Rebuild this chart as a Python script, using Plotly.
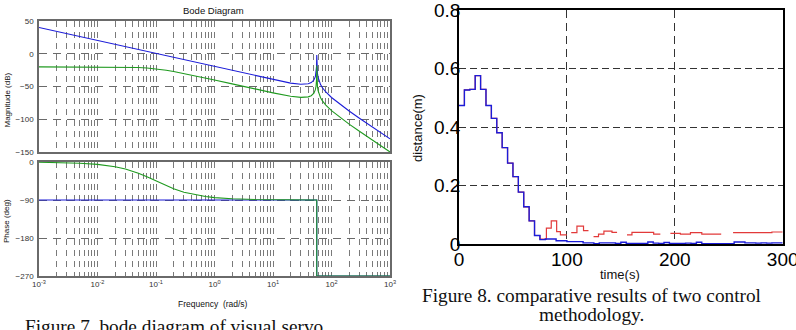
import plotly.graph_objects as go

# ---------------- Bode diagram data ----------------
freq = [0.001, 0.002, 0.005, 0.01, 0.02, 0.03, 0.05, 0.07, 0.1, 0.15, 0.2, 0.3, 0.5, 0.7,
        1, 2, 5, 10, 20, 30, 40, 45, 50, 53, 54.5, 55.5, 56, 56.5, 57.5, 59, 62, 65, 70,
        80, 100, 150, 200, 300, 500, 1000]
mag_blue = [40, 34, 26, 20, 14, 10.5, 6, 3.1, 0, -3.5, -6, -9.5, -14, -16.9,
            -20, -26, -33.9, -39.7, -44.9, -46.6, -45.8, -44.1, -40.1, -34.9, -29.2, -19.9, -2, -20.1, -29.9, -36.2, -42.9, -47.1, -51.9,
            -58.4, -66.8, -79.3, -87.4, -98.4, -111.9, -130]
mag_green = [-20, -20, -20, -20, -20.2, -20.4, -21, -21.7, -23, -25.1, -27, -30, -34.2, -37,
             -40, -46, -54, -59.7, -64.9, -66.6, -65.8, -64.1, -60.1, -54.9, -49.2, -39.9, -18, -40.1, -49.9, -56.2, -62.9, -67.1, -71.9,
             -78.4, -86.8, -99.3, -107.4, -118.4, -131.9, -150]

phase_freq = [0.001, 0.002, 0.005, 0.01, 0.02, 0.03, 0.05, 0.07, 0.1, 0.15, 0.2, 0.3, 0.5, 0.7,
              1, 2, 5, 10, 20, 56, 56, 100, 1000]
phase_blue = [-90, -90, -90, -90, -90, -90, -90, -90, -90, -90, -90, -90, -90, -90,
              -90, -90, -90, -90, -90, -90, -270, -270, -270]
phase_green = [-0.6, -1.1, -2.9, -5.7, -11.3, -16.7, -26.6, -35, -45, -56.3, -63.4, -71.6, -78.7, -81.9,
               -84.3, -87.1, -88.9, -89.4, -89.7, -89.9, -269.9, -269.9, -270]

mag_ticks = [50, 0, -50, -100, -150]
phase_ticks = [0, -90, -180, -270]
freq_ticks = [0.001, 0.01, 0.1, 1, 10, 100, 1000]
freq_ticklabels = ["10<sup>-3</sup>", "10<sup>-2</sup>", "10<sup>-1</sup>", "10<sup>0</sup>",
                   "10<sup>1</sup>", "10<sup>2</sup>", "10<sup>3</sup>"]

# ---------------- Comparative results data ----------------
t_blue = [0, 5, 10, 15, 20, 25, 30, 35, 40, 45, 50, 55, 60, 65, 70, 75, 80, 85, 90, 95,
          100, 105, 110, 115, 120, 125, 130, 135, 140, 145, 150, 155, 160, 165, 170, 175, 180, 185, 190, 195,
          200, 205, 210, 215, 220, 225, 230, 235, 240, 245, 250, 255, 260, 265, 270, 275, 280, 285, 290, 295, 300]
d_blue = [0.474, 0.527, 0.529, 0.576, 0.529, 0.474, 0.430, 0.381, 0.330, 0.277, 0.231, 0.178, 0.128, 0.080, 0.030, 0.016, 0.018, 0.018, 0.012, 0.012,
          0.009, 0.009, 0.009, 0.005, 0.005, 0.002, 0.005, 0.005, 0.005, 0.003, 0.007, 0.003, 0.003, 0.003, 0.003, 0.008, 0.004, 0.003, 0.006, 0.003,
          0.003, 0.003, 0.004, 0.003, 0.007, 0.002, 0.002, 0.002, 0.002, 0.002, 0.002, 0.008, 0.008, 0.005, 0.005, 0.004, 0.005, 0.004, 0.005, 0.005, 0.005]

t_red = [0, 5, 10, 15, 20, 25, 30, 35, 40, 45, 50, 55, 60, 65, 70, 75,
         81, 85.5, 90.5, 94, 100, 100,
         104, 109.3, 115.4, 120, 120,
         124.7, 129.3, 134.3, 141.8, 146.5, 146.5,
         155.7, 160.3, 180.4, 186.6, 186.6,
         195.9, 205.2, 214.5, 225, 243, 243,
         254, 290, 300]
d_red = [0.474, 0.527, 0.529, 0.576, 0.529, 0.474, 0.430, 0.381, 0.330, 0.277, 0.231, 0.178, 0.128, 0.080, 0.030, 0.018,
         0.055, 0.080, 0.043, 0.032, 0.032, None,
         0.040, 0.062, 0.047, 0.047, None,
         0.026, 0.035, 0.045, 0.041, 0.041, None,
         0.032, 0.041, 0.035, 0.035, None,
         0.0375, 0.035, 0.040, 0.035, 0.035, None,
         0.040, 0.042, 0.042]

time_ticks = [0, 100, 200, 300]
time_ticklabels = ["0", "100", "200", "300"]
dist_ticks = [0, 0.2, 0.4, 0.6, 0.8]
dist_ticklabels = ["0", "0.2", "0.4", "0.6", "0.8"]

# ---------------- styling ----------------
W, H = 796, 330
BLUE = "#1c1cd8"
GREEN = "#1f9a1f"
RED = "#e23a3a"
SANS = "Liberation Sans, Arial, sans-serif"
SERIF = "Liberation Serif, Times New Roman, serif"


def px_x(p):
    return p / W


def px_y(p):
    return 1 - p / H


minor_vals = [k * 10 ** e for e in range(-3, 3) for k in range(2, 10)]

fig = go.Figure()
fig.add_trace(go.Scatter(x=freq, y=mag_blue, mode="lines", line=dict(color=BLUE, width=1.1),
                         xaxis="x", yaxis="y"))
fig.add_trace(go.Scatter(x=freq, y=mag_green, mode="lines", line=dict(color=GREEN, width=1.1),
                         xaxis="x", yaxis="y"))
fig.add_trace(go.Scatter(x=phase_freq, y=phase_blue, mode="lines", line=dict(color=BLUE, width=1.1),
                         xaxis="x2", yaxis="y2"))
fig.add_trace(go.Scatter(x=phase_freq, y=phase_green, mode="lines", line=dict(color=GREEN, width=1.1),
                         xaxis="x2", yaxis="y2"))
fig.add_trace(go.Scatter(x=t_red, y=d_red, mode="lines", line=dict(color=RED, width=1.2, shape="hv"),
                         connectgaps=False, xaxis="x3", yaxis="y3"))
fig.add_trace(go.Scatter(x=t_blue, y=d_blue, mode="lines", line=dict(color=BLUE, width=1.4, shape="hv"),
                         xaxis="x3", yaxis="y3"))

bode_x_common = dict(
    type="log", range=[-3, 3], tickvals=freq_ticks, showgrid=True, gridcolor="#7a7a7a",
    griddash="6px,5px", gridwidth=1, showline=True, mirror=True, linecolor="#6a6a6a", linewidth=1.5,
    ticks="", ticklen=0, zeroline=False, automargin=False, ticklabeloverflow="allow",
    minor=dict(tickvals=minor_vals, showgrid=True, gridcolor="#7a7a7a", griddash="6px,5px", gridwidth=1, ticks=""),
    tickfont=dict(family=SANS, size=8, color="#333"),
)
bode_y_common = dict(
    showgrid=True, gridcolor="#6a6a6a", griddash="8px,6px", gridwidth=1, showline=True, mirror=True,
    linecolor="#6a6a6a", linewidth=1.5, ticks="", ticklen=0, zeroline=False, automargin=False,
    ticklabeloverflow="allow",
    tickfont=dict(family=SANS, size=8, color="#333"), ticklabelstandoff=2,
)

fig.update_layout(
    template="none",
    width=W, height=H, margin=dict(l=0, r=0, t=0, b=0, pad=0), autosize=False,
    paper_bgcolor="white", plot_bgcolor="white", showlegend=False,
    xaxis=dict(bode_x_common, domain=[px_x(39), px_x(390)], anchor="y", showticklabels=False),
    yaxis=dict(bode_y_common, domain=[px_y(152), px_y(21)], anchor="x", range=[-150, 50],
               tickvals=mag_ticks),
    xaxis2=dict(bode_x_common, domain=[px_x(39), px_x(390)], anchor="y2", ticktext=freq_ticklabels,
                showticklabels=True),
    yaxis2=dict(bode_y_common, domain=[px_y(276), px_y(162)], anchor="x2", range=[-270, 0],
                tickvals=phase_ticks),
    xaxis3=dict(domain=[px_x(459), px_x(782.7)], anchor="y3", range=[0, 300], tickvals=time_ticks,
                ticktext=time_ticklabels, showgrid=True, gridcolor="#333", griddash="8px,5px", gridwidth=1,
                showline=True, mirror=True, linecolor="black", linewidth=1.5, ticks="", ticklen=0,
                zeroline=False, automargin=False, ticklabeloverflow="allow",
                tickfont=dict(family=SANS, size=19, color="black"), ticklabelstandoff=-3),
    yaxis3=dict(domain=[px_y(244.3), px_y(10)], anchor="x3", range=[0, 0.8], tickvals=dist_ticks,
                ticktext=dist_ticklabels, showgrid=True, gridcolor="#333", griddash="7px,4px", gridwidth=1,
                showline=True, mirror=True, linecolor="black", linewidth=1.5, ticks="", ticklen=0,
                zeroline=False, automargin=False, ticklabeloverflow="allow",
                tickfont=dict(family=SANS, size=19, color="black"), ticklabelstandoff=-7),
)

ann = [
    dict(text="Bode Diagram", x=px_x(213.5), y=px_y(10.7), size=9.5, family=SANS, angle=0),
    dict(text="Magnitude (dB)", x=px_x(7.5), y=px_y(100), size=8, family=SANS, angle=-90),
    dict(text="Phase (deg)", x=px_x(6), y=px_y(221), size=8, family=SANS, angle=-90),
    dict(text="Frequency  (rad/s)", x=px_x(213), y=px_y(304), size=8.5, family=SANS, angle=0),
    dict(text="distance(m)", x=px_x(417), y=px_y(128), size=13, family=SANS, angle=-90),
    dict(text="time(s)", x=px_x(620), y=px_y(274), size=13, family=SANS, angle=0),
    dict(text="Figure 8. comparative results of two control", x=px_x(591.5), y=px_y(295), size=19.3,
         family=SERIF, angle=0),
    dict(text="methodology.", x=px_x(591.5), y=px_y(314.5), size=19.3, family=SERIF, angle=0),
    dict(text="Figure 7. bode diagram of visual servo", x=px_x(174), y=px_y(326), size=19.3,
         family=SERIF, angle=0),
]
for a in ann:
    fig.add_annotation(text=a["text"], x=a["x"], y=a["y"], xref="paper", yref="paper",
                       xanchor="center", yanchor="middle", showarrow=False, textangle=a["angle"],
                       font=dict(family=a["family"], size=a["size"], color="#111"))

fig.write_html("out.html")
